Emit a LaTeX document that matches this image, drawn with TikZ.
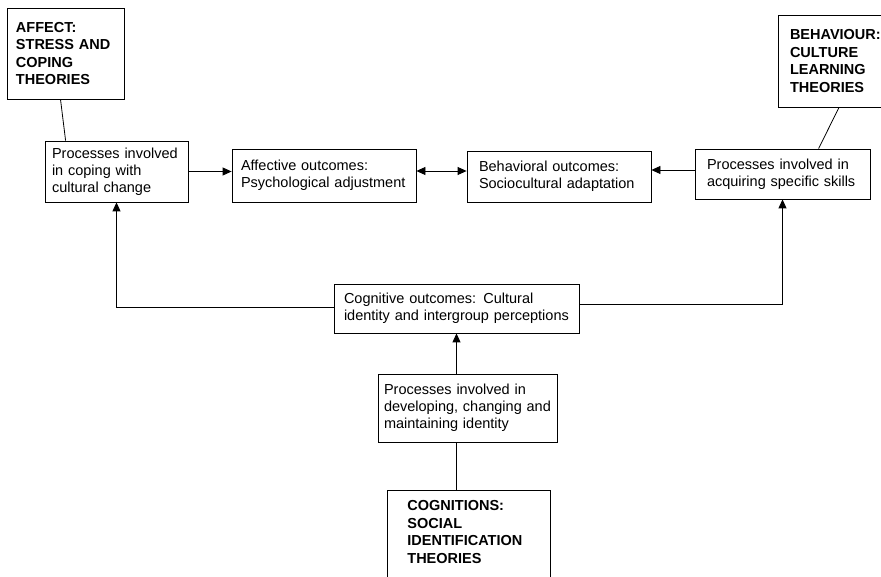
\documentclass[tikz,border=0pt]{standalone}
\usepackage{fontspec}
\setmainfont{Liberation Sans}
\usetikzlibrary{arrows.meta, positioning}

\begin{document}
\begin{tikzpicture}[x=1pt, y=-1pt,
			box/.style={draw, line width=0.8pt, align=left, inner xsep=0pt, inner ysep=0pt, font=\fontsize{14.5}{17}\selectfont},
			theory/.style={box, font=\fontsize{14.5}{17.5}\selectfont\bfseries},
			arrow/.style={-{Triangle[length=9pt, width=8pt]}, line width=0.8pt},
			twoway/.style={{Triangle[length=9pt, width=8pt]}-{Triangle[length=9pt, width=8pt]}, line width=0.8pt},
			link/.style={line width=0.8pt}
		]
		\useasboundingbox (0,0) rectangle (881,577);
		\clip (0,0) rectangle (881,577);
		% theory boxes
		\node[theory, minimum width=117pt, minimum height=91pt, text width=99pt] (affect) at (65.5,53.5) {AFFECT:\\STRESS AND\\COPING\\THEORIES};
		\node[theory, minimum width=130pt, minimum height=92pt, text width=106pt] (behaviour) at (843,61) {BEHAVIOUR:\\CULTURE\\LEARNING\\THEORIES};
		\node[theory, draw=none, anchor=north west, inner xsep=20pt, inner ysep=10pt, text width=123pt] (cogn) at (387,490) {COGNITIONS:\\SOCIAL\\IDENTIFICATION\\THEORIES};
		\draw[link] ([yshift=-100pt]cogn.north west) -- (cogn.north west) -- (cogn.north east) -- ([yshift=-100pt]cogn.north east);
		
		% processes and outcomes
		\node[box, minimum width=143pt, minimum height=61pt, text width=129pt] (coping) at (116.5,171.5) {Processes involved\\in coping with\\cultural change};
		\node[box, minimum width=184pt, minimum height=53pt, text width=166pt] (affective) at (324,175.5) {Affective outcomes:\\Psychological adjustment};
		\node[box, minimum width=184pt, minimum height=51pt, text width=160pt] (behavioral) at (559,176.5) {Behavioral outcomes:\\Sociocultural adaptation};
		\node[box, minimum width=175pt, minimum height=50pt, text width=151pt] (acquiring) at (782.5,174) {Processes involved in\\acquiring specific skills};
		\node[box, minimum width=245pt, minimum height=49pt, text width=225pt] (cognitive) at (456.5,308.5) {Cognitive outcomes: Cultural\\identity and intergroup perceptions};
		\node[box, minimum width=179pt, minimum height=68pt, text width=167pt] (identity) at (467.5,408) {Processes involved in\\developing, changing and\\maintaining identity};
		
		% connectors
		\draw[link] ([xshift=-5pt]affect.south) -- ([xshift=21pt]coping.north west);
		\draw[link] ([xshift=-4pt]behaviour.south) -- ([xshift=124pt]acquiring.north west);
		\draw[link] (cognitive.south |- identity.south) -- (cognitive.south |- cogn.north);
		\draw[arrow] (coping.east) -- (coping.east -| affective.west);
		\draw[twoway] ([yshift=4.5pt]affective.east) -- ([yshift=4.5pt]affective.east -| behavioral.west);
		\draw[arrow] ([yshift=4pt]acquiring.west) -- ([yshift=4pt]acquiring.west -| behavioral.east);
		\draw[arrow] ([yshift=1.5pt]cognitive.west) -| (coping.south);
		\draw[arrow] ([yshift=4.5pt]cognitive.east) -| (acquiring.south);
		\draw[arrow] (cognitive.south |- identity.north) -- (cognitive.south);
		\end{tikzpicture}
\end{document}
